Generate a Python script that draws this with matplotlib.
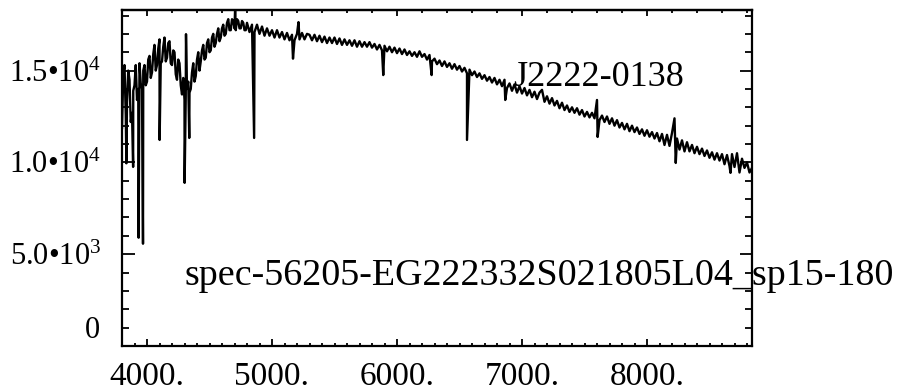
import numpy as np
import matplotlib
matplotlib.use('Agg')
import matplotlib.pyplot as plt
from matplotlib.ticker import MultipleLocator, FixedLocator, FuncFormatter

plt.rcParams['font.family'] = ['Liberation Serif', 'DejaVu Serif']
plt.rcParams['mathtext.fontset'] = 'custom'
plt.rcParams['mathtext.rm'] = 'Liberation Serif'
plt.rcParams['mathtext.it'] = 'Liberation Serif:italic'

wave = np.arange(3800, 8841, 20)
flux = [
    11875, 15300, 13300, 14500, 12700, 14200, 13400, 15400, 14000, 15300,
    14400, 15800, 14900, 16400, 15300, 16700, 15500, 16800, 15700, 16600,
    15300, 16000, 14500, 15400, 13700, 13400, 14000, 13800, 14900, 14400,
    15600, 15000, 16100, 15600, 16500, 16000, 16800, 16300, 17000, 16600,
    17300, 16900, 17600, 17200, 17800, 17300, 17800, 17300, 17700, 17200,
    17600, 17100, 17500, 17100, 17500, 17000, 17400, 16900, 17300, 16900,
    17200, 16800, 17200, 16800, 17100, 16700, 17050, 16650, 16950, 16650,
    17000, 16700, 17050, 16700, 17000, 16950, 16650, 16950, 16600, 16900,
    16550, 16850, 16500, 16800, 16500, 16800, 16450, 16750, 16400, 16700,
    16400, 16650, 16350, 16650, 16300, 16600, 16300, 16550, 16300, 16550,
    16250, 16450, 16150, 16400, 16100, 16350, 16050, 16300, 16000, 16250,
    15950, 16200, 15900, 16150, 15850, 16050, 15800, 16000, 15750, 16050,
    15750, 15900, 15600, 15850, 15500, 15650, 15350, 15550, 15250, 15500,
    15200, 15400, 15100, 15350, 15050, 15250, 14950, 15150, 14850, 15050,
    14750, 14950, 14650, 14850, 14550, 14750, 14450, 14650, 14350, 14600,
    14250, 14500, 14150, 14500, 14050, 14300, 13900, 14250, 13800, 14150,
    13750, 14050, 13650, 13950, 13550, 13850, 13450, 13800, 13950, 13300,
    13600, 13200, 13500, 13100, 13350, 12950, 13250, 12850, 13100, 12750,
    13000, 12700, 12950, 12600, 12850, 12500, 12750, 12450, 12700, 12400,
    13400, 12300, 12550, 12200, 12500, 12100, 12400, 12000, 12300, 11900,
    12150, 11800, 12100, 11700, 12000, 11650, 11900, 11550, 11800, 11450,
    11750, 11400, 11650, 11300, 11600, 11150, 11550, 10950, 11500, 10900,
    11600, 12400, 11300, 10700, 11200, 10600, 11100, 10600, 10950, 10500,
    10850, 10450, 10750, 10350, 10650, 10250, 10550, 10150, 10500, 10100,
    10450, 9900, 10400, 9800, 10450, 9750, 10500, 9450, 10200, 9700,
    10000, 9450, 9700,
]

# extra samples in the noisy blue part (3810-4790 A)
mid_wave = np.arange(3810, 4800, 20)
mid_flux = [
    14800, 12600, 15000, 12200, 13900, 15300, 14000, 14300, 15000, 14200,
    15600, 14600, 15900, 15000, 16200, 15400, 16300, 15500, 16500, 15400,
    16100, 14800, 15600, 14200, 14600, 13600, 14400, 14000, 15400, 14700,
    16000, 15500, 16400, 15700, 16700, 16100, 17000, 16500, 17300, 16800,
    17500, 17000, 17800, 17200, 17700, 17200, 17700, 17300, 17600, 17200,
]

# narrow features (absorption lines / spikes)
line_wave = [3835, 3889, 3933, 3968, 4101, 4301, 4312, 4338, 4705, 4857,
             5168, 5212, 5890, 6277, 6560, 6866, 7605, 8230, 8668]
line_flux = [9950, 9755, 5897, 5571, 11223, 8886, 16984, 11332, 18400, 11332,
             15650, 17640, 14756, 14756, 11223, 13400, 11386, 9970, 9430]

w = np.concatenate([wave, mid_wave, line_wave])
f = np.concatenate([flux, mid_flux, line_flux])
order = np.argsort(w, kind='stable')

fig = plt.figure(figsize=(9.03, 3.91), dpi=100)
ax = fig.add_axes([122/903, 1-346/391, 630/903, 336/391])

ax.plot(w[order], f[order], color='black', lw=1.7)

ax.set_xlim(3800, 8840)
ax.set_ylim(0, 18300)

ax.xaxis.set_major_locator(MultipleLocator(1000))
ax.xaxis.set_minor_locator(MultipleLocator(100))
ax.xaxis.set_major_formatter(FuncFormatter(lambda v, p: '%d.' % v))
ax.yaxis.set_major_locator(FixedLocator([0, 5000, 10000, 15000]))
ax.yaxis.set_minor_locator(MultipleLocator(1000))
ax.set_yticklabels(['', '5.0•$\\mathregular{10^{3}}$',
                    '1.0•$\\mathregular{10^{4}}$', '1.5•$\\mathregular{10^{4}}$'])

ax.tick_params(axis='both', which='both', direction='in', width=1.3,
               colors='black')
ax.tick_params(axis='x', which='major', length=5, pad=11, top=False,
               labelsize=24)
ax.tick_params(axis='x', which='minor', length=2.5, top=False)
ax.tick_params(axis='y', which='major', length=9, pad=15, right=True,
               labelsize=22)
ax.tick_params(axis='y', which='minor', length=5, right=True)

top = ax.secondary_xaxis('top')
top.xaxis.set_major_locator(MultipleLocator(1000))
top.xaxis.set_minor_locator(MultipleLocator(200))
top.tick_params(which='both', direction='in', width=1.3, labeltop=False)
top.tick_params(which='major', length=4)
top.tick_params(which='minor', length=2.5)
top.spines['top'].set_linewidth(1.6)

for s in ax.spines.values():
    s.set_linewidth(1.6)

ax.text(-22/630, 15/336, '0', transform=ax.transAxes, ha='right',
        va='center', fontsize=22)

ax.text(391/630, 260/336, 'J2222-0138', transform=ax.transAxes,
        ha='left', va='baseline', fontsize=26, clip_on=False)
ax.text(62/630, 61/336, 'spec-56205-EG222332S021805L04_sp15-180',
        transform=ax.transAxes, ha='left', va='baseline', fontsize=27.4,
        clip_on=False)

fig.savefig('out.png', dpi=100)
